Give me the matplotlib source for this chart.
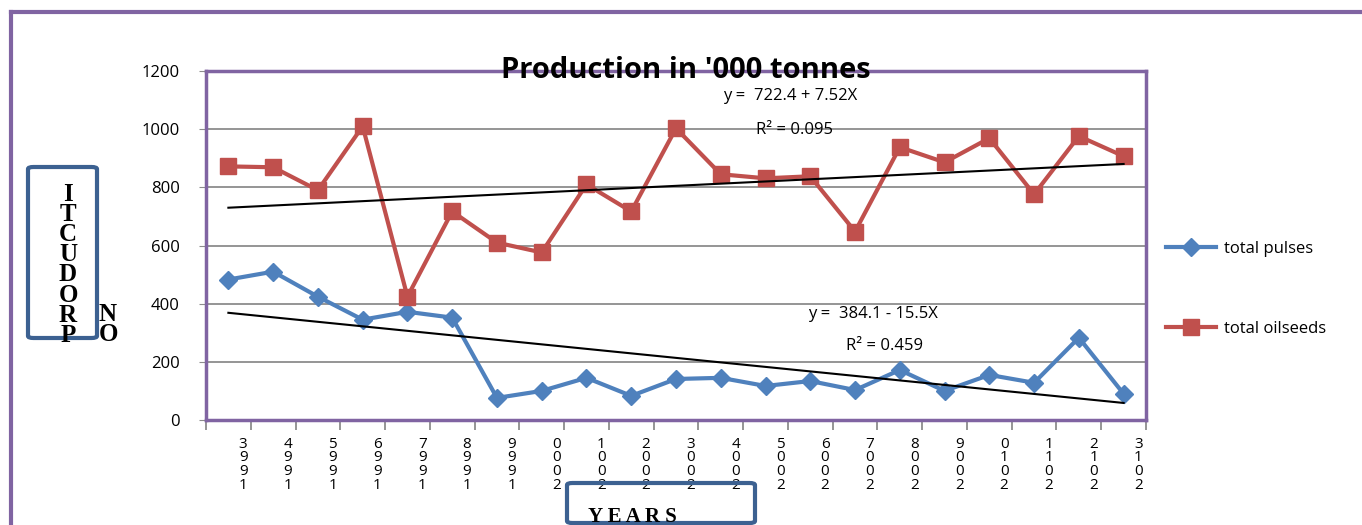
import matplotlib.pyplot as plt
from matplotlib.patches import FancyBboxPatch
from matplotlib.lines import Line2D
import numpy as np

years = list(range(1993, 2014))
pulses = [483, 510, 424, 345, 372, 352, 76, 100, 145, 83, 141, 145, 117, 134, 103, 172, 100, 155, 128, 283, 90]
oilseeds = [872, 869, 790, 1010, 424, 717, 610, 576, 810, 717, 1003, 845, 831, 838, 648, 938, 886, 969, 776, 976, 907]
# trend line coefficients as printed on the chart (X = 1..21)
oil_a, oil_b = 722.4, 7.52
pul_a, pul_b = 384.1, -15.5

blue = '#4F81BD'
red = '#C0504D'
purple = '#8064A2'
boxblue = '#3C6191'

plt.rcParams['font.family'] = ['Open Sans', 'DejaVu Sans']

fig = plt.figure(figsize=(13.62, 5.25), dpi=100)
ax = fig.add_axes([206 / 1362, 1 - 420 / 525, 940 / 1362, 349 / 525])

x = np.arange(len(years))
X = x + 1
ax.plot(x, pulses, color=blue, lw=3, marker='D', markersize=9, label='total pulses', zorder=3)
ax.plot(x, oilseeds, color=red, lw=3, marker='s', markersize=11, label='total oilseeds', zorder=3)
ax.plot(x, oil_a + oil_b * X, color='black', lw=1.5, zorder=4)
ax.plot(x, pul_a + pul_b * X, color='black', lw=1.5, zorder=4)

ax.set_xlim(-0.5, len(years) - 0.5)
ax.set_ylim(0, 1200)
ax.set_yticks(range(0, 1201, 200))
ax.set_yticklabels([str(v) for v in range(0, 1201, 200)], fontsize=12)
ax.grid(axis='y', color='#8c8c8c', lw=1.3)
ax.set_axisbelow(True)
ax.tick_params(axis='y', length=5, color='#8c8c8c', pad=14)

# labels shown as stacked reversed digits, like the original
ax.set_xticks(x + 0.33)
ax.set_xticklabels(['\n'.join(str(y)[::-1]) for y in years], fontsize=11, linespacing=0.88)
ax.tick_params(axis='x', length=0, pad=12)
ax.set_xticks(np.arange(-0.5, len(years)), minor=True)
ax.tick_params(axis='x', which='minor', length=7, color='#8c8c8c', width=1.3)

for s in ax.spines.values():
    s.set_color(purple)
    s.set_linewidth(2.5)

ax.text(0.51, 0.98, "Production in '000 tonnes", transform=ax.transAxes, ha='center', va='baseline',
        fontsize=21, fontweight='bold', zorder=5)
ax.text(11.06, 1100, 'y =  722.4 + 7.52X', fontsize=12)
ax.text(11.78, 985, 'R² = 0.095', fontsize=12)
ax.text(12.94, 352, 'y =  384.1 - 15.5X', fontsize=12)
ax.text(13.79, 239, 'R² = 0.459', fontsize=12)

ax.legend(loc='upper left', bbox_to_anchor=(1.005, 0.555), frameon=False, fontsize=12,
          labelspacing=3.8, handlelength=3.0, handletextpad=0.5)

# outer chart frame (left and top edges visible)
fig.add_artist(Line2D([11 / 1362, 11 / 1362], [0, 1 - 12 / 525], color=purple, lw=3))
fig.add_artist(Line2D([11 / 1362, 1.0], [1 - 12 / 525, 1 - 12 / 525], color=purple, lw=3))

# axis title boxes
fig.add_artist(FancyBboxPatch((28 / 1362, 1 - 338 / 525), 69 / 1362, 171 / 525,
                              boxstyle='round,pad=0,rounding_size=0.004', fill=False,
                              ec=boxblue, lw=3, transform=fig.transFigure))
fig.text(68 / 1362, 1 - 183 / 525, 'I\nT\nC\nU\nD\nO\nR\nP', ha='center', va='top',
         family='Liberation Serif', fontweight='bold', fontsize=18, linespacing=0.84)
fig.text(108 / 1362, 1 - 303 / 525, 'N\nO', ha='center', va='top',
         family='Liberation Serif', fontweight='bold', fontsize=18, linespacing=0.84)

fig.add_artist(FancyBboxPatch((567 / 1362, 1 - 523 / 525), 188 / 1362, 40 / 525,
                              boxstyle='round,pad=0,rounding_size=0.004', fill=False,
                              ec=boxblue, lw=3, transform=fig.transFigure))
fig.text(588 / 1362, 1 - 522 / 525, 'Y E A R S', ha='left', va='baseline',
         family='Liberation Serif', fontweight='bold', fontsize=15)

fig.savefig('out.png', dpi=100)
